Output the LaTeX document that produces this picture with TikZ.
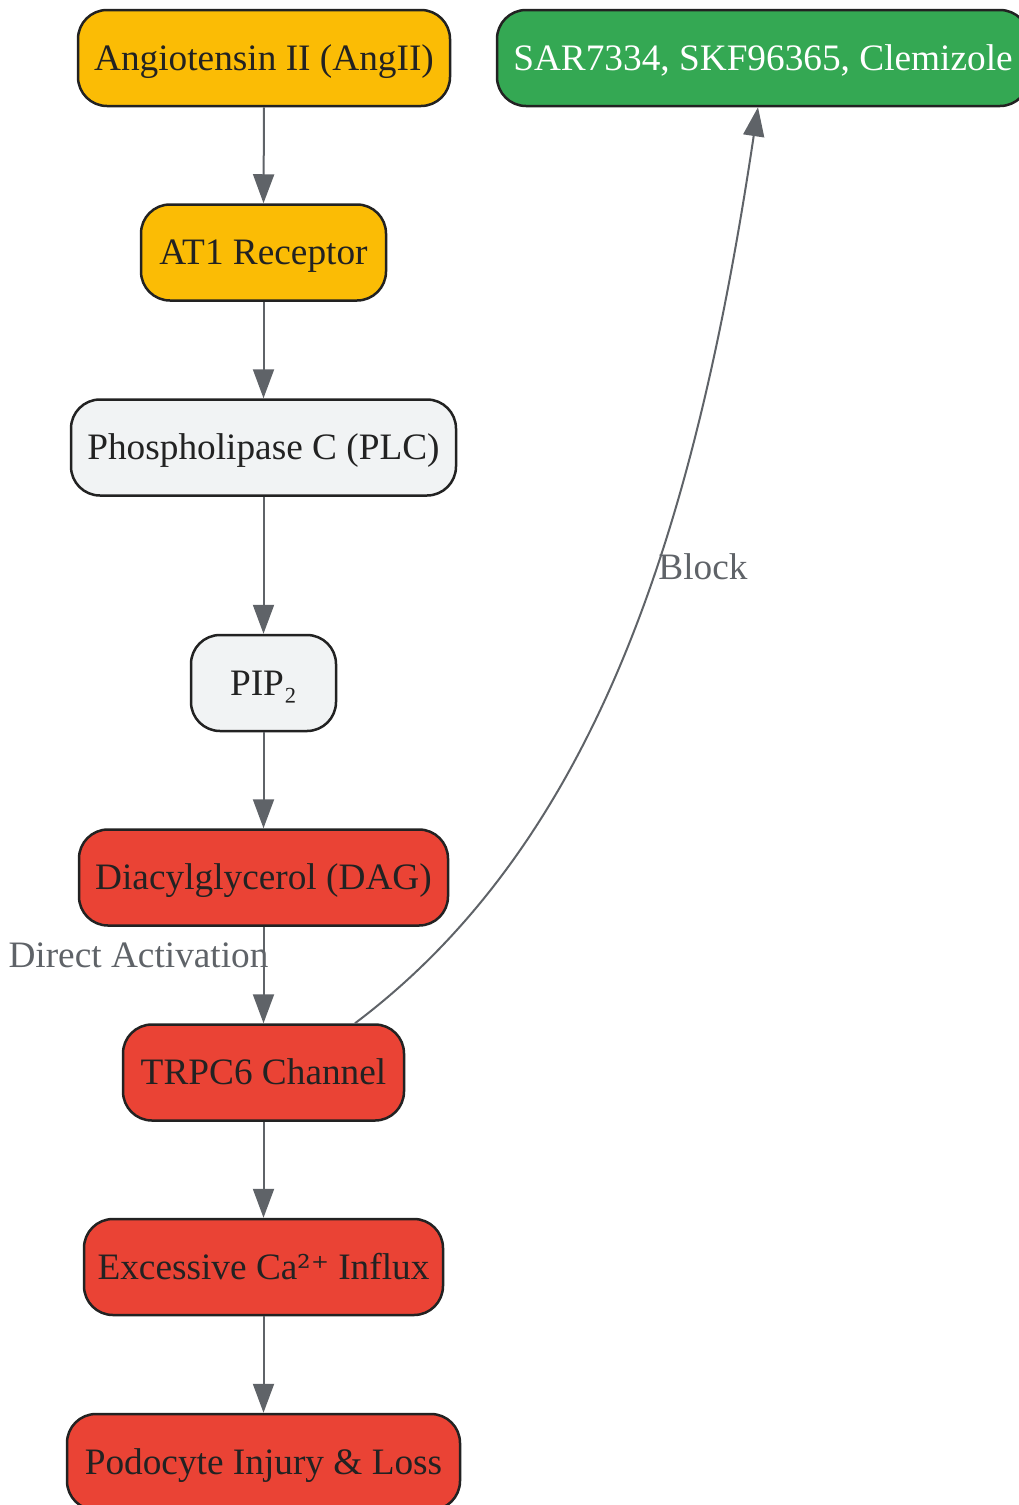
\documentclass[tikz,border=0pt]{standalone}
\usepackage{fontspec}
\setmainfont{Liberation Serif}
\newfontfamily\dvserif{DejaVu Serif}
\usetikzlibrary{arrows.meta}
\definecolor{cyellow}{HTML}{FBBC05}
\definecolor{cgreen}{HTML}{34A853}
\definecolor{cred}{HTML}{EA4335}
\definecolor{cgray}{HTML}{F1F3F4}
\definecolor{cborder}{HTML}{222222}
\definecolor{ctext}{HTML}{222222}
\definecolor{cedge}{HTML}{5F6368}
\tikzset{
  box/.style={draw=cborder, line width=2.5pt, rounded corners=29pt, minimum height=96pt,
    inner sep=0pt, text height=30pt, text depth=5.4pt, text=ctext, font=\fontsize{37.3}{44}\selectfont},
  yel/.style={box, fill=cyellow},
  grn/.style={box, fill=cgreen, text=white},
  rd/.style={box, fill=cred},
  gr/.style={box, fill=cgray},
  edge/.style={draw=cedge, line width=2pt, -{Triangle[length=29pt,width=21pt]}},
  elabel/.style={text=cedge, font=\fontsize{37.3}{44}\selectfont, inner sep=0pt, text height=30pt, text depth=5.4pt}
}
\begin{document}
\begin{tikzpicture}[x=1pt,y=-1pt]
\useasboundingbox (0,0) rectangle (1018,1505);
\node[yel, minimum width=372pt] (ang) at (264,58) {Angiotensin II (AngII)};
\node[grn, minimum width=532pt] (sar) at (763,58) {SAR7334, SKF96365, Clemizole};
\node[yel, minimum width=245pt] (at1) at (263.5,252.5) {AT1 Receptor};
\node[gr, minimum width=385pt] (plc) at (263.5,447.5) {Phospholipase C (PLC)};
\node[gr, minimum width=145pt] (pip) at (263.5,683) {PIP₂};
\node[rd, minimum width=359pt] (ca) at (263.5,1267) {Excessive Ca{\dvserif\fontsize{34}{40}\selectfont ²⁺} Influx};
\node[rd, minimum width=369pt] (dag) at (263.5,877.5) {Diacylglycerol (DAG)};
\node[rd, minimum width=281pt] (trp) at (263.5,1072.5) {TRPC6 Channel};
\node[rd, minimum width=393pt] (pod) at (263.5,1462) {Podocyte Injury \& Loss};

\draw[edge] (ang.south) -- (at1.north);
\draw[edge] (at1.south) -- (plc.north);
\draw[edge] (plc.south) -- (pip.north);
\draw[edge] (pip.south) -- (dag.north);
\draw[edge] (dag.south) -- (trp.north);
\draw[edge] (trp.south) -- (ca.north);
\draw[edge] (ca.south) -- (pod.north);
\draw[edge] ([xshift=91.5pt]trp.north) .. controls +(250,-188) and +(-60,400) .. ([xshift=-5pt]sar.south);

\node[elabel] (lda) at (138.5,955) {Direct Activation};
\node[elabel] (lbl) at (703,567) {Block};
\end{tikzpicture}
\end{document}
